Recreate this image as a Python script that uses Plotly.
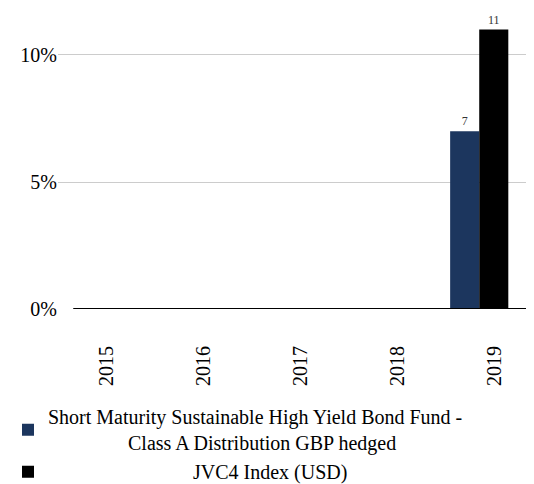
import plotly.graph_objects as go

years = ["2015", "2016", "2017", "2018", "2019"]
fund_values = [None, None, None, None, 7]
index_values = [None, None, None, None, 11]
y_tick_values = [0, 5, 10]
y_tick_labels = ["0%", "5%", "10%"]
fund_name = "Short Maturity Sustainable High Yield Bond Fund -<br>" + "\u00a0" * 16 + "Class A Distribution GBP hedged"
index_name = "\u00a0" * 29 + "JVC4 Index (USD)"

font_family = "Liberation Serif, Times New Roman, serif"

fig = go.Figure()
fig.add_trace(go.Bar(
    x=years, y=fund_values, name=fund_name, marker_color="#1c365e",
    marker_line_width=0, width=0.3, offset=-0.455,
    text=[("" if v is None else str(v)) for v in fund_values],
    textposition="outside", textfont=dict(size=12, color="#333333", family=font_family),
    cliponaxis=False,
))
fig.add_trace(go.Bar(
    x=years, y=index_values, name=index_name, marker_color="#000000",
    marker_line_width=0, width=0.3, offset=-0.155,
    text=[("" if v is None else str(v)) for v in index_values],
    textposition="outside", textfont=dict(size=12, color="#333333", family=font_family),
    cliponaxis=False,
))

fig.update_layout(
    width=526, height=476,
    margin=dict(l=50, r=0, t=0, b=175, autoexpand=False),
    paper_bgcolor="white", plot_bgcolor="white",
    font=dict(family=font_family, size=20, color="#000000"),
    barmode="group",
    showlegend=True,
    legend=dict(
        orientation="v", xref="container", yref="container",
        x=0.0, y=0.1825, xanchor="left", yanchor="top",
        font=dict(size=20, family=font_family), bgcolor="rgba(0,0,0,0)",
        itemwidth=30, tracegroupgap=0,
    ),
    xaxis=dict(
        type="category", range=[-0.5, 4.41], tickangle=-90, showgrid=False, showline=False,
        ticks="outside", ticklen=28, tickcolor="rgba(0,0,0,0)",
        tickfont=dict(size=20, family=font_family), automargin=False,
    ),
    yaxis=dict(
        range=[0, 11.85], tickvals=y_tick_values, ticktext=y_tick_labels,
        showgrid=True, gridcolor="#cccccc", gridwidth=1,
        zeroline=False, showline=False, automargin=False,
        tickfont=dict(size=20, family=font_family),
    ),
)
fig.add_shape(type="line", xref="x domain", yref="y", x0=0.032, x1=1, y0=0, y1=0,
              line=dict(color="black", width=2))

fig.write_html("out.html")
